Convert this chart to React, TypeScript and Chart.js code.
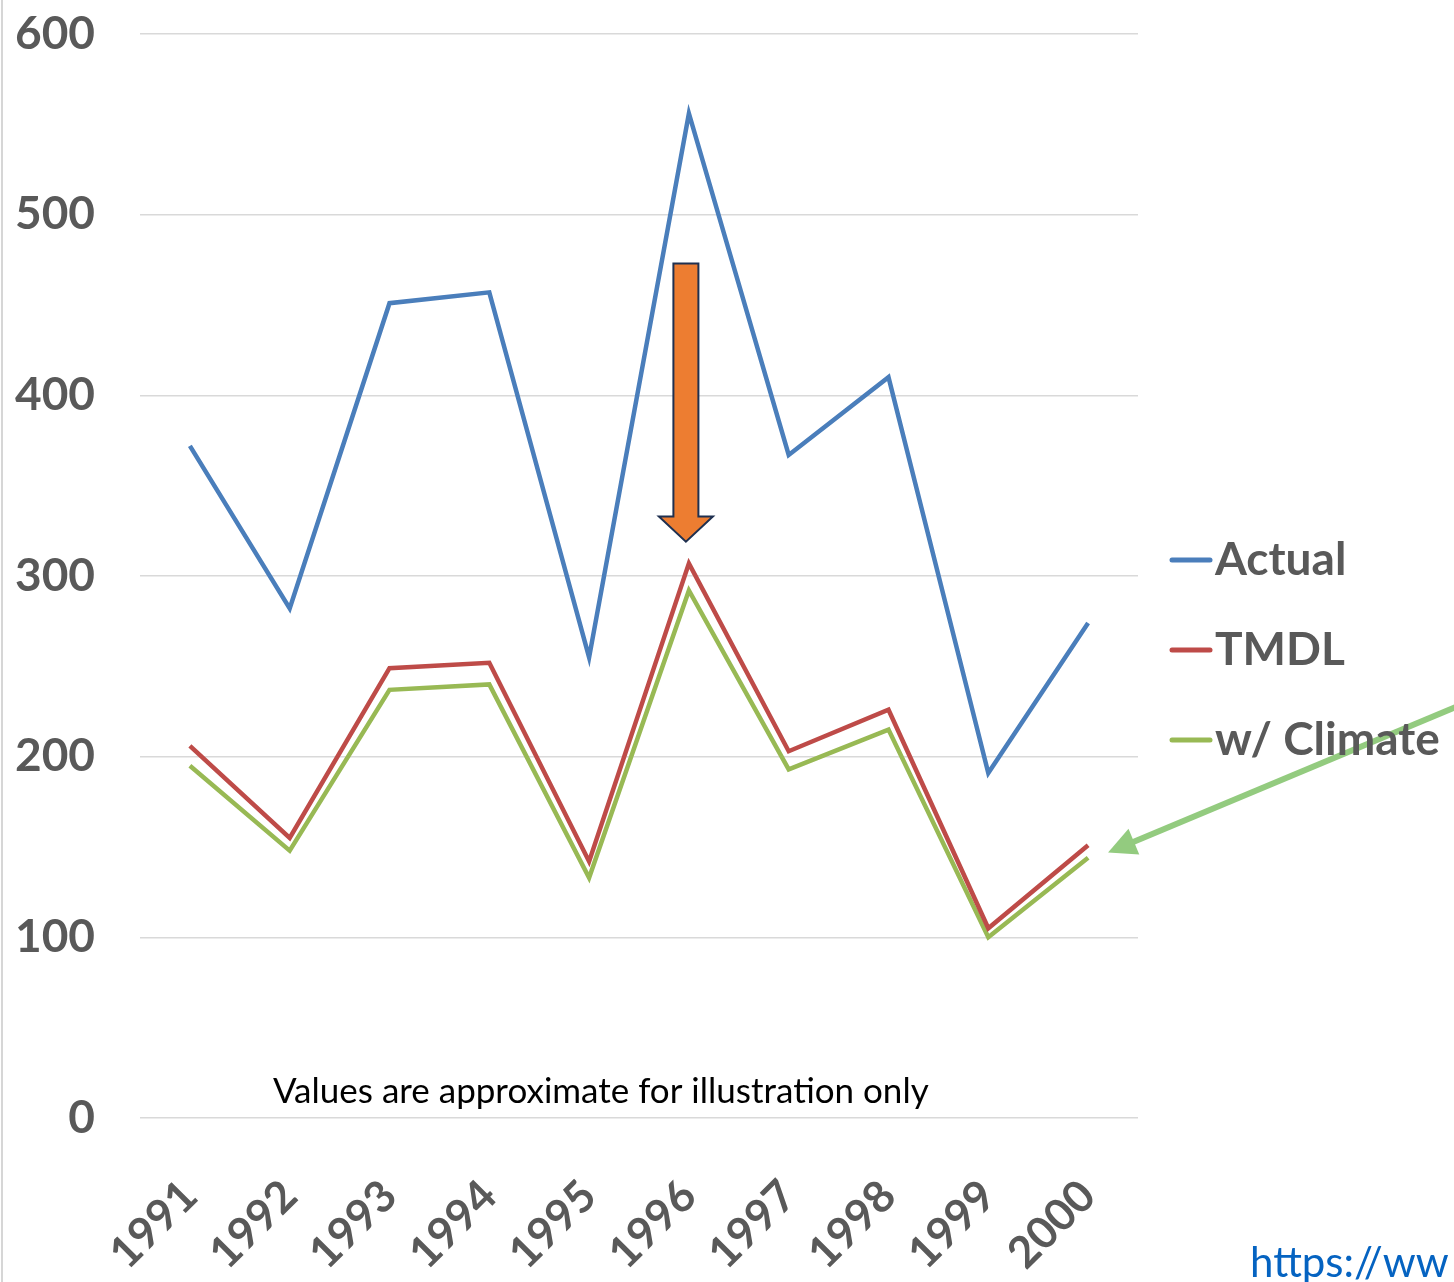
import React, { useEffect, useRef } from "react";
import { Chart, registerables } from "chart.js";

Chart.register(...registerables);

const years = ["1991", "1992", "1993", "1994", "1995", "1996", "1997", "1998", "1999", "2000"];
const actual = [372, 282, 451, 457, 255, 556, 367, 410, 191, 274];
const tmdl = [206, 155, 249, 252, 142, 307, 203, 226, 105, 151];
const climate = [195, 148, 237, 240, 133, 292, 193, 215, 100, 144];
const seriesNames = ["Actual", "TMDL", "w/ Climate"];
const seriesColors = ["#4A7EBB", "#BE4B48", "#98B954"];
const yTicks = [0, 100, 200, 300, 400, 500, 600];
const note = "Values are approximate for illustration only";
const urlText = "https://ww";

const FONT = "Lato, 'Open Sans', sans-serif";

const overlay = {
  id: "overlay",
  afterDraw(chart: any) {
    const ctx = chart.ctx;
    const xs = chart.scales.x;
    const ys = chart.scales.y;
    ctx.save();
    // left border
    ctx.strokeStyle = "#D6D6D6";
    ctx.lineWidth = 2;
    ctx.beginPath();
    ctx.moveTo(2, 0);
    ctx.lineTo(2, chart.height);
    ctx.stroke();

    // orange arrow
    const cx = xs.getPixelForValue(4.97);
    const top = ys.getPixelForValue(473);
    const headBase = ys.getPixelForValue(333);
    const tip = ys.getPixelForValue(319);
    const sw = 12.5;
    const hw = 27;
    ctx.beginPath();
    ctx.moveTo(cx - sw, top);
    ctx.lineTo(cx + sw, top);
    ctx.lineTo(cx + sw, headBase);
    ctx.lineTo(cx + hw, headBase);
    ctx.lineTo(cx, tip);
    ctx.lineTo(cx - hw, headBase);
    ctx.lineTo(cx - sw, headBase);
    ctx.closePath();
    ctx.fillStyle = "#ED7D31";
    ctx.fill();
    ctx.strokeStyle = "#1F3050";
    ctx.lineWidth = 2;
    ctx.lineJoin = "miter";
    ctx.stroke();

    // green arrow
    const tx = xs.getPixelForValue(9.2);
    const ty = ys.getPixelForValue(147);
    const sx = xs.getPixelForValue(12.75);
    const sy = ys.getPixelForValue(229);
    const ang = Math.atan2(ty - sy, tx - sx);
    const hl = 28;
    const hwid = 14;
    const bx = tx - hl * Math.cos(ang);
    const by = ty - hl * Math.sin(ang);
    ctx.strokeStyle = "#93CB7F";
    ctx.fillStyle = "#93CB7F";
    ctx.lineWidth = 6;
    ctx.lineCap = "butt";
    ctx.beginPath();
    ctx.moveTo(sx, sy);
    ctx.lineTo(bx + 4 * Math.cos(ang), by + 4 * Math.sin(ang));
    ctx.stroke();
    ctx.beginPath();
    ctx.moveTo(tx, ty);
    ctx.lineTo(bx - hwid * Math.sin(ang), by + hwid * Math.cos(ang));
    ctx.lineTo(bx + hwid * Math.sin(ang), by - hwid * Math.cos(ang));
    ctx.closePath();
    ctx.fill();

    // legend
    const legY = [560, 650, 740];
    ctx.font = `bold 46px ${FONT}`;
    ctx.textBaseline = "middle";
    ctx.textAlign = "left";
    seriesNames.forEach((n, i) => {
      ctx.strokeStyle = seriesColors[i];
      ctx.lineWidth = 5;
      ctx.lineCap = "round";
      ctx.beginPath();
      ctx.moveTo(1172, legY[i]);
      ctx.lineTo(1210, legY[i]);
      ctx.stroke();
      ctx.fillStyle = "#595959";
      ctx.fillText(n, 1215, legY[i]);
    });

    // note
    ctx.font = `35px ${FONT}`;
    ctx.fillStyle = "#000000";
    ctx.textBaseline = "alphabetic";
    ctx.fillText(note, 273, 1103);

    // url
    ctx.font = `42px ${FONT}`;
    ctx.fillStyle = "#0563C1";
    ctx.fillText(urlText, 1250, 1277);
    ctx.restore();
  },
};

export default function App() {
  const ref = useRef<HTMLCanvasElement | null>(null);
  useEffect(() => {
    document.body.style.margin = "0";
    const chart = new Chart(ref.current as HTMLCanvasElement, {
      type: "line",
      data: {
        labels: years,
        datasets: [
          { label: seriesNames[0], data: actual, borderColor: seriesColors[0], borderWidth: 4.5, pointRadius: 0, tension: 0 },
          { label: seriesNames[1], data: tmdl, borderColor: seriesColors[1], borderWidth: 4.5, pointRadius: 0, tension: 0 },
          { label: seriesNames[2], data: climate, borderColor: seriesColors[2], borderWidth: 4.5, pointRadius: 0, tension: 0 },
        ],
      },
      options: {
        responsive: false,
        animation: false,
        layout: { autoPadding: false, padding: { top: 34, right: 316, left: 0, bottom: 0 } } as any,
        plugins: { legend: { display: false }, tooltip: { enabled: false } },
        scales: {
          x: {
            offset: true,
            grid: { display: false, drawTicks: false },
            border: { display: false },
            ticks: {
              minRotation: 45,
              maxRotation: 45,
              padding: 52,
              color: "#595959",
              font: { family: FONT, size: 44, weight: "bold" },
            },
            afterFit: (s: any) => {
              s.height = 164;
              s.paddingLeft = 0;
              s.paddingRight = 0;
            },
          },
          y: {
            min: 0,
            max: 600,
            afterBuildTicks: (s: any) => {
              s.ticks = yTicks.map((v) => ({ value: v }));
            },
            grid: { color: "#D9D9D9", lineWidth: 1.5, drawTicks: false },
            border: { display: false },
            ticks: {
              padding: 45,
              color: "#595959",
              font: { family: FONT, size: 46, weight: "bold" },
            },
            afterFit: (s: any) => {
              s.width = 140;
              s.paddingTop = 0;
              s.paddingBottom = 0;
            },
          },
        },
      },
      plugins: [overlay],
    });
    return () => chart.destroy();
  }, []);
  return (
    <div style={{ width: 1454, height: 1282 }}>
      <canvas ref={ref} width={1454} height={1282} />
    </div>
  );
}
